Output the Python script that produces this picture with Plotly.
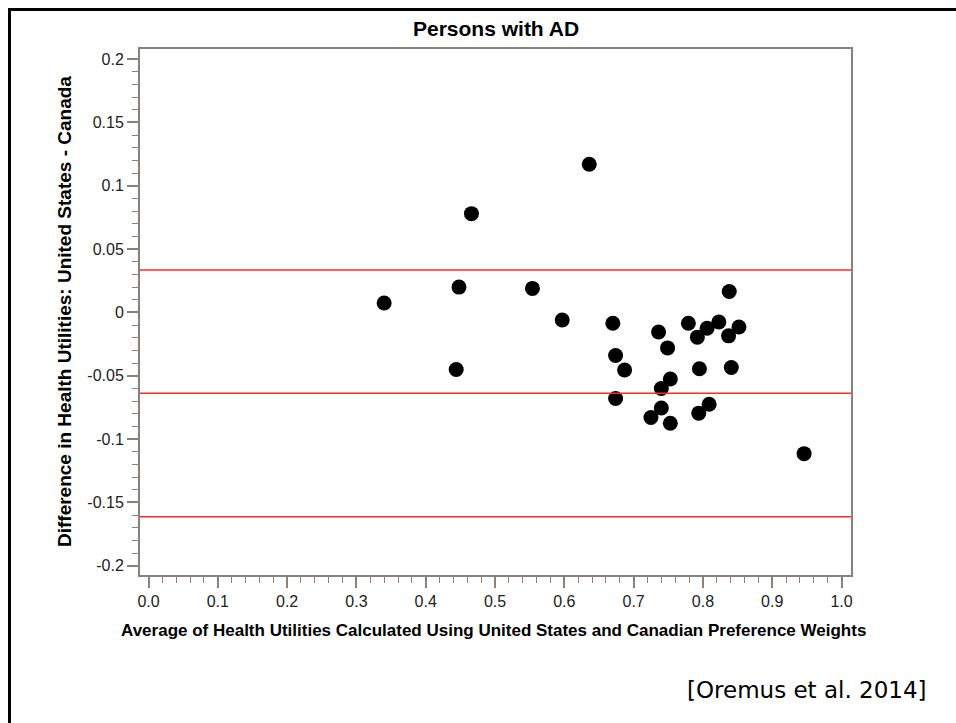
import plotly.graph_objects as go

# ---- data ----
avg_utility = [0.636, 0.466, 0.340, 0.448, 0.554, 0.597, 0.444,
               0.670, 0.736, 0.749, 0.779, 0.792, 0.806, 0.823, 0.837, 0.852, 0.838,
               0.674, 0.687, 0.795, 0.841, 0.753, 0.740, 0.674, 0.740, 0.725, 0.753,
               0.809, 0.794, 0.946]
diff_utility = [0.117, 0.078, 0.0075, 0.020, 0.019, -0.006, -0.045,
                -0.0085, -0.0155, -0.028, -0.0085, -0.0195, -0.0125, -0.0075, -0.0185, -0.0115, 0.0165,
                -0.034, -0.0455, -0.0445, -0.0435, -0.0525, -0.060, -0.068, -0.0755, -0.083, -0.0875,
                -0.0725, -0.0795, -0.1115]
limit_lines = [0.0336, -0.0638, -0.1613]   # upper LoA, mean difference, lower LoA

x_tick_vals = [0.0, 0.1, 0.2, 0.3, 0.4, 0.5, 0.6, 0.7, 0.8, 0.9, 1.0]
x_tick_text = ["0.0", "0.1", "0.2", "0.3", "0.4", "0.5", "0.6", "0.7", "0.8", "0.9", "1.0"]
y_tick_vals = [0.2, 0.15, 0.1, 0.05, 0.0, -0.05, -0.1, -0.15, -0.2]
y_tick_text = ["0.2", "0.15", "0.1", "0.05", "0", "-0.05", "-0.1", "-0.15", "-0.2"]

title_text = "Persons with AD"
x_title = "Average of Health Utilities Calculated Using United States and Canadian Preference Weights"
y_title = "Difference in Health Utilities: United States - Canada"
caption = "[Oremus et al. 2014]"

# ---- layout geometry (page pixels; body margin removed by post_script) ----
W, H = 956, 723
L, R, T, B = 140, 851, 49, 575
pw, ph = R - L, B - T
def px(xp):
    return (xp - L) / pw
def py(yp):
    return (B - yp) / ph

axis_col = "#8a8279"
font_fam = "Liberation Sans, Arial, sans-serif"

fig = go.Figure()
fig.add_trace(go.Scatter(
    x=avg_utility, y=diff_utility, mode="markers",
    marker=dict(color="black", size=15, line=dict(width=0)),
    showlegend=False, hoverinfo="x+y"))

shapes = []
for v in limit_lines:
    shapes.append(dict(type="line", xref="paper", yref="y", x0=0, x1=1, y0=v, y1=v,
                       line=dict(color="#ff2a2a", width=1.5), layer="above"))
# outer black frame (runs off the right and bottom of the image)
shapes.append(dict(type="rect", xref="paper", yref="paper",
                   x0=px(9.5), x1=px(1000), y0=py(780), y1=py(9.5),
                   line=dict(color="black", width=3), fillcolor="rgba(0,0,0,0)", layer="below"))

axis_common = dict(
    showgrid=False, zeroline=False, showline=True, mirror=True,
    linecolor=axis_col, linewidth=2,
    ticks="outside", ticklen=11, tickwidth=1.5, tickcolor=axis_col,
    tickfont=dict(family=font_fam, size=16, color="#222222"),
)

fig.update_layout(
    width=W, height=H,
    margin=dict(l=L, r=W - R, t=T, b=H - B, pad=0),
    paper_bgcolor="white", plot_bgcolor="white",
    xaxis=dict(range=[-0.0123, 1.0137], tickmode="array", tickvals=x_tick_vals, ticktext=x_tick_text,
               minor=dict(dtick=0.02, tick0=0, ticks="outside", ticklen=6, tickcolor=axis_col, tickwidth=1.2),
               **axis_common),
    yaxis=dict(range=[-0.2073, 0.208], tickmode="array", tickvals=y_tick_vals, ticktext=y_tick_text,
               minor=dict(dtick=0.01, tick0=0, ticks="outside", ticklen=6, tickcolor=axis_col, tickwidth=1.2),
               **axis_common),
    shapes=shapes,
    annotations=[
        dict(text="<b>" + title_text + "</b>", xref="paper", yref="paper", x=px(496), y=py(28),
             xanchor="center", yanchor="middle", showarrow=False,
             font=dict(family=font_fam, size=21, color="black")),
        dict(text="<b>" + x_title + "</b>", xref="paper", yref="paper", x=px(493), y=py(630),
             xanchor="center", yanchor="middle", showarrow=False,
             font=dict(family=font_fam, size=17, color="black")),
        dict(text="<b>" + y_title + "</b>", xref="paper", yref="paper", x=px(64), y=py(312),
             xanchor="center", yanchor="middle", showarrow=False, textangle=-90,
             font=dict(family=font_fam, size=19, color="black")),
        dict(text=caption, xref="paper", yref="paper", x=px(807), y=py(690),
             xanchor="center", yanchor="middle", showarrow=False,
             font=dict(family="DejaVu Sans, Verdana, sans-serif", size=23, color="black")),
    ],
)

fig.write_html("out.html", config={"displayModeBar": False},
               post_script="document.body.style.margin='0';document.body.style.overflow='hidden';")
